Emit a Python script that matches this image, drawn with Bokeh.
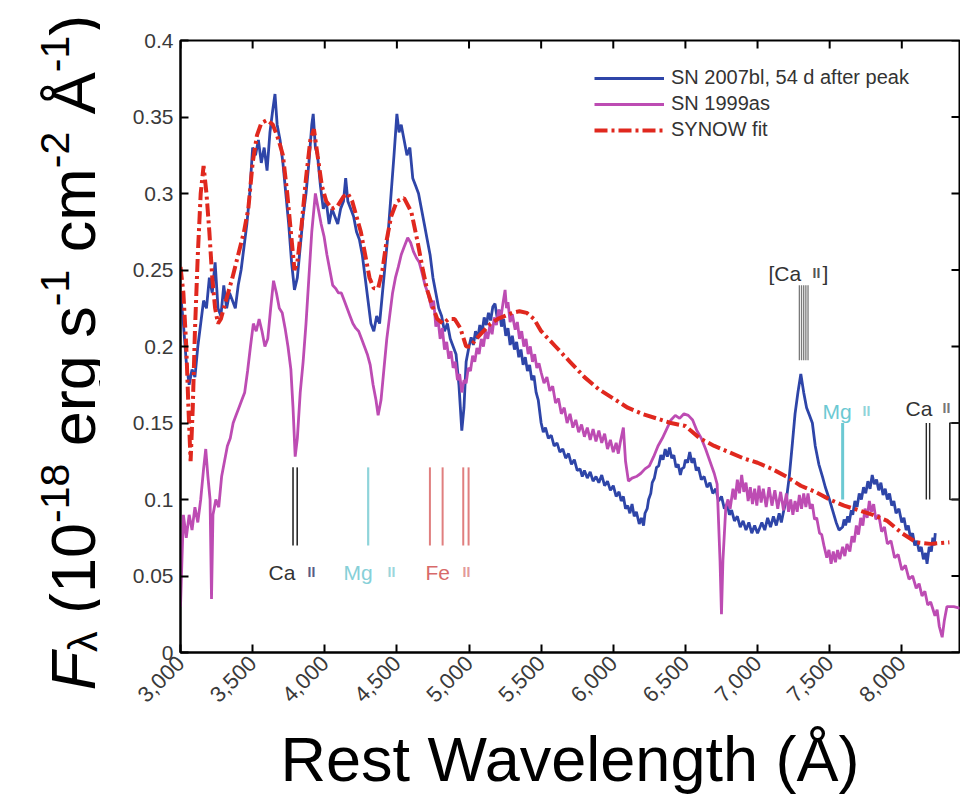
import math
from bokeh.plotting import figure
from bokeh.layouts import row
from bokeh.models import Range1d, FixedTicker, Label, Legend, LegendItem
from bokeh.core.properties import value
from bokeh.embed import file_html
from bokeh.resources import INLINE

# ---------------- data: (rest wavelength Å, flux) ----------------
spec_07bl = [
    (3000, .235), (3020, .215), (3040, .19), (3060, .175), (3080, .185), (3100, .18), (3120, .2), (3140, .215),
    (3160, .23), (3180, .225), (3200, .245), (3220, .235), (3240, .255), (3260, .225), (3280, .22), (3300, .24),
    (3320, .225), (3340, .235), (3360, .23), (3380, .225), (3400, .24), (3420, .25), (3440, .265), (3460, .28),
    (3480, .3), (3500, .33), (3520, .325), (3540, .335), (3560, .32), (3580, .33), (3600, .315), (3620, .34),
    (3640, .355), (3655, .365), (3670, .345), (3690, .335), (3710, .32), (3730, .3), (3750, .28), (3770, .255),
    (3790, .237), (3810, .245), (3830, .265), (3850, .285), (3870, .3), (3890, .32), (3910, .345), (3920, .352),
    (3935, .33), (3950, .325), (3970, .305), (3990, .29), (4010, .295), (4030, .28), (4050, .29), (4070, .285),
    (4090, .28), (4110, .29), (4130, .295), (4145, .31), (4160, .295), (4180, .29), (4200, .285), (4220, .275),
    (4240, .27), (4260, .26), (4280, .245), (4300, .23), (4320, .215), (4340, .21), (4360, .22), (4380, .215),
    (4400, .235), (4420, .255), (4440, .275), (4460, .3), (4480, .325), (4500, .352), (4515, .34), (4530, .345),
    (4550, .335), (4570, .325), (4590, .33), (4610, .31), (4630, .305), (4650, .3), (4670, .29), (4690, .28),
    (4710, .27), (4730, .26), (4750, .245), (4770, .235), (4790, .225), (4810, .22), (4830, .21), (4850, .215),
    (4870, .205), (4890, .2), (4910, .195), (4930, .175), (4950, .145), (4965, .16), (4980, .19),
    (5000, .2), (5015, .206), (5030, .201), (5045, .21), (5060, .205), (5075, .214), (5090, .209), (5105, .219),
    (5120, .214), (5135, .222), (5150, .217), (5165, .226), (5180, .228), (5195, .219), (5210, .224), (5225, .213),
    (5240, .218), (5255, .207), (5270, .212), (5285, .201), (5300, .207), (5315, .198), (5330, .203), (5345, .193),
    (5360, .198), (5375, .188), (5390, .193), (5405, .184), (5420, .188), (5435, .178), (5450, .181), (5465, .17),
    (5480, .165),
    (5500, .150), (5515, .144), (5530, .147), (5550, .140), (5570, .142), (5590, .135), (5610, .137), (5630, .131),
    (5650, .133), (5670, .127), (5690, .13), (5710, .123), (5730, .126), (5750, .119), (5770, .12), (5785, .115),
    (5800, .119), (5820, .114), (5840, .118), (5860, .112), (5880, .115), (5900, .111), (5920, .116), (5940, .109),
    (5960, .112), (5980, .106), (6000, .109), (6020, .102), (6040, .105), (6055, .099), (6070, .102), (6085, .094),
    (6100, .096), (6115, .091), (6130, .097), (6145, .089), (6160, .092), (6180, .084), (6195, .088), (6210, .083),
    (6220, .091), (6235, .094), (6245, .1), (6260, .104), (6270, .111), (6285, .114), (6300, .121), (6315, .122),
    (6330, .129), (6345, .126), (6360, .133), (6375, .128), (6390, .134), (6405, .127), (6420, .129), (6435, .121),
    (6450, .123), (6465, .116), (6475, .12), (6490, .121), (6500, .126), (6515, .124), (6530, .131), (6545, .124),
    (6560, .127), (6575, .119), (6590, .121), (6610, .113), (6630, .115), (6650, .108), (6670, .111), (6690, .104),
    (6710, .107), (6730, .099), (6750, .102), (6770, .094), (6790, .097), (6805, .09), (6820, .093), (6840, .086),
    (6860, .089), (6880, .082), (6900, .086), (6920, .08), (6940, .085), (6960, .078), (6980, .083), (7000, .078),
    (7030, .085), (7050, .08), (7070, .088), (7090, .082), (7110, .089), (7130, .083), (7150, .091), (7165, .085),
    (7180, .092),
    (7200, .1), (7220, .115), (7240, .135), (7260, .156), (7280, .17), (7300, .182), (7320, .17), (7340, .16),
    (7360, .155), (7380, .15), (7400, .135), (7425, .123), (7450, .115), (7470, .108), (7495, .101), (7520, .093),
    (7545, .085), (7565, .08),
    (7590, .082), (7600, .087), (7610, .083), (7625, .089), (7635, .085), (7650, .093), (7660, .09), (7675, .099),
    (7690, .095), (7705, .104), (7720, .1), (7735, .108), (7750, .104), (7765, .112), (7780, .107), (7795, .116),
    (7810, .11), (7825, .113), (7840, .106), (7855, .111), (7870, .103), (7885, .107), (7900, .1), (7915, .104),
    (7930, .096), (7945, .099), (7960, .091), (7980, .094), (8000, .085), (8015, .088), (8030, .08), (8045, .083),
    (8060, .075), (8075, .078), (8090, .07), (8105, .073), (8120, .066), (8135, .069), (8150, .061), (8165, .065),
    (8175, .058), (8190, .069), (8205, .066), (8215, .075), (8225, .07), (8232, .078),
]

spec_99as = [
    (3000, .03), (3010, .06), (3020, .09), (3040, .075), (3060, .09), (3080, .08), (3100, .095), (3120, .085),
    (3140, .1), (3160, .12), (3175, .133), (3190, .115), (3205, .1), (3215, .035), (3225, .09), (3245, .1),
    (3265, .095), (3285, .115), (3305, .125), (3325, .135), (3345, .14), (3365, .15), (3385, .155), (3405, .16),
    (3425, .165), (3445, .17), (3465, .184), (3485, .2), (3505, .215), (3525, .21), (3545, .218), (3565, .21),
    (3585, .2), (3605, .205), (3625, .225), (3645, .243), (3665, .235), (3685, .225), (3705, .222), (3725, .212),
    (3745, .2), (3765, .185), (3780, .16), (3795, .128), (3810, .14), (3830, .17), (3850, .19), (3870, .215),
    (3890, .245), (3910, .275), (3935, .3), (3955, .29), (3975, .28), (3995, .272), (4015, .26), (4035, .25),
    (4055, .24), (4075, .238), (4095, .235), (4115, .235), (4135, .23), (4155, .225), (4175, .22), (4195, .215),
    (4215, .212), (4235, .21), (4255, .205), (4275, .2), (4295, .195), (4315, .188), (4335, .175), (4355, .165),
    (4370, .155), (4390, .165), (4410, .185), (4430, .205), (4450, .22), (4470, .235), (4490, .245), (4510, .252),
    (4530, .26), (4550, .265), (4575, .271), (4595, .268), (4615, .262), (4635, .258), (4655, .255), (4675, .248),
    (4695, .24), (4715, .235),
    (4740, .225), (4755, .23), (4770, .213), (4785, .218), (4800, .205), (4815, .212), (4830, .198), (4845, .203),
    (4860, .192), (4875, .197), (4890, .186), (4905, .19), (4920, .178), (4935, .182), (4950, .17), (4965, .178),
    (4980, .176), (4995, .186), (5010, .184), (5025, .194), (5040, .19), (5055, .199), (5070, .195), (5085, .205),
    (5100, .2), (5115, .21), (5130, .205), (5145, .214), (5160, .208), (5175, .219), (5190, .214), (5205, .224),
    (5220, .218), (5235, .228), (5250, .237), (5260, .225), (5270, .229), (5285, .216), (5300, .221), (5320, .211),
    (5335, .216), (5350, .205), (5365, .21), (5380, .2), (5395, .205), (5410, .195), (5425, .2), (5440, .19),
    (5455, .195), (5470, .186), (5485, .189),
    (5500, .183), (5520, .176), (5540, .18), (5560, .171), (5580, .174), (5600, .163), (5620, .166), (5640, .156),
    (5660, .16), (5680, .15), (5700, .156), (5720, .147), (5740, .152), (5760, .144), (5780, .149), (5800, .141),
    (5820, .147), (5840, .139), (5860, .146), (5880, .138), (5900, .145), (5920, .137), (5940, .143), (5960, .133),
    (5980, .139), (6000, .131), (6020, .137), (6035, .13), (6050, .138),
    (6070, .147), (6085, .125), (6105, .112), (6130, .114), (6160, .115), (6190, .117), (6220, .12), (6250, .122),
    (6280, .128), (6310, .135), (6340, .14), (6370, .146), (6400, .152), (6430, .155), (6460, .153), (6490, .156),
    (6520, .155), (6550, .152), (6580, .145), (6610, .14), (6640, .133), (6670, .125), (6700, .117), (6720, .11),
    (6740, .06), (6750, .025), (6760, .06),
    (6780, .095), (6795, .1), (6810, .094), (6830, .107), (6845, .1), (6860, .113), (6875, .104), (6890, .116),
    (6905, .105), (6920, .111), (6935, .099), (6950, .108), (6965, .097), (6980, .107), (6995, .096), (7010, .109),
    (7025, .098), (7040, .107), (7060, .095), (7080, .108), (7100, .096), (7120, .106), (7140, .094), (7160, .105),
    (7180, .093), (7200, .104), (7215, .092), (7230, .1), (7245, .09), (7260, .099), (7275, .092), (7290, .103),
    (7305, .094), (7320, .104), (7335, .095), (7350, .104), (7365, .094), (7380, .097), (7395, .087), (7410, .088),
    (7430, .078), (7445, .077),
    (7460, .07), (7480, .062), (7495, .067), (7510, .058), (7525, .066), (7540, .059), (7555, .067), (7570, .061),
    (7590, .069), (7605, .063), (7620, .071), (7640, .066), (7655, .076), (7670, .072), (7685, .083), (7700, .077),
    (7715, .088), (7730, .083), (7745, .094), (7760, .088), (7775, .099), (7790, .092), (7805, .097), (7820, .087),
    (7840, .09), (7860, .079), (7880, .082), (7900, .071), (7925, .073), (7950, .062), (7975, .064), (8000, .054),
    (8025, .057), (8050, .048), (8075, .05), (8100, .042), (8120, .045), (8140, .037), (8160, .04), (8180, .031),
    (8200, .033), (8230, .024), (8245, .028), (8260, .017), (8280, .01), (8295, .021), (8313, .03),
    (8330, .03), (8360, .03), (8400, .029), (8420, .029),
]

spec_synow = [
    (3000, .252), (3020, .235), (3040, .2), (3055, .16), (3070, .125), (3085, .16), (3100, .21), (3120, .26),
    (3140, .3), (3160, .318), (3180, .3), (3200, .275), (3220, .245), (3240, .225), (3260, .215), (3280, .218),
    (3300, .225), (3330, .235), (3360, .245), (3400, .26), (3440, .275), (3470, .29), (3500, .32), (3530, .338),
    (3560, .346), (3600, .348), (3640, .345), (3680, .335), (3710, .325), (3740, .3), (3770, .27), (3790, .25),
    (3810, .255), (3840, .28), (3870, .31), (3900, .335), (3925, .342), (3950, .325), (3980, .305), (4010, .295),
    (4050, .29), (4090, .292), (4130, .298), (4160, .3), (4190, .295), (4220, .285), (4250, .275), (4280, .26),
    (4310, .245), (4340, .238), (4370, .238), (4400, .25), (4430, .27), (4460, .285), (4500, .295), (4550, .297),
    (4600, .288), (4640, .27), (4680, .25), (4710, .237), (4740, .228), (4780, .218), (4820, .215), (4860, .218),
    (4900, .218), (4940, .212), (4980, .2), (5010, .2), (5050, .205), (5100, .21), (5150, .215), (5200, .218),
    (5250, .22), (5300, .222), (5350, .223), (5400, .222), (5450, .218), (5500, .21), (5600, .2), (5700, .19),
    (5800, .18), (5900, .172), (6000, .166), (6100, .16), (6200, .156), (6300, .153), (6400, .15), (6500, .148),
    (6600, .14), (6700, .135), (6800, .131), (6900, .127), (7000, .124), (7100, .12), (7200, .115), (7300, .109),
    (7400, .105), (7500, .1), (7600, .096), (7700, .093), (7800, .09), (7900, .086), (8000, .078), (8100, .072),
    (8200, .071), (8330, .072),
]

series_labels = ["SN 2007bl, 54 d after peak", "SN 1999as", "SYNOW fit"]

x_ticks = [3000, 3500, 4000, 4500, 5000, 5500, 6000, 6500, 7000, 7500, 8000]
x_tick_labels = ["3,000", "3,500", "4,000", "4,500", "5,000", "5,500", "6,000", "6,500", "7,000", "7,500", "8,000"]
y_ticks = [0, 0.05, 0.1, 0.15, 0.2, 0.25, 0.3, 0.35, 0.4]
y_tick_labels = ["0", "0.05", "0.1", "0.15", "0.2", "0.25", "0.3", "0.35", "0.4"]

# line identifications (wavelengths in Angstrom, flux extents)
caii_hk = [3780, 3809]
mgii_blue = [4301]
feii_lines = [4729, 4817, 4960, 4997]
caii_forbidden = [7290, 7305, 7320, 7335, 7350]
mgii_red = [7590]
caii_ir = [8170, 8193]
caii_ir_box = 8333
blue_ids_span = [0.070, 0.121]
forbidden_span = [0.191, 0.240]
red_ids_span = [0.100, 0.150]

wl_07bl, fx_07bl = [list(v) for v in zip(*spec_07bl)]
wl_99as, fx_99as = [list(v) for v in zip(*spec_99as)]
wl_synow, fx_synow = [list(v) for v in zip(*spec_synow)]

# ---------------- layout constants ----------------
X0, X1 = 3000, 8400
Y0, Y1 = 0, 0.4
FONT = "Liberation Sans"
W, H = 960, 801
LAB_W = 100                     # width of the strip holding the y-axis title
FRAME_L, FRAME_R, FRAME_T, FRAME_B = 180, 959, 40, 652


def px_x(px):
    return X0 + (px - FRAME_L) * (X1 - X0) / (FRAME_R - FRAME_L)


def px_y(py):
    return Y0 + (FRAME_B - py) * (Y1 - Y0) / (FRAME_B - FRAME_T)


p = figure(width=W - LAB_W, height=H, x_range=Range1d(X0, X1), y_range=Range1d(Y0, Y1),
           output_backend="svg", toolbar_location=None,
           min_border_left=FRAME_L - LAB_W, min_border_right=W - FRAME_R,
           min_border_top=FRAME_T, min_border_bottom=H - FRAME_B)
p.grid.visible = False
p.outline_line_color = "black"
p.outline_line_width = 2
p.background_fill_color = "white"
p.border_fill_color = "white"

# axes
xa = p.xaxis[0]
xa.ticker = FixedTicker(ticks=x_ticks)
xa.major_label_overrides = dict(zip(x_ticks, x_tick_labels))
xa.major_label_orientation = math.pi / 4
xa.axis_label = "Rest Wavelength (Å)"
xa.axis_label_text_font = FONT
xa.axis_label_text_font_size = "63px"
xa.axis_label_text_font_style = "normal"
xa.axis_label_text_color = "black"
xa.axis_label_standoff = 12

ya = p.yaxis[0]
ya.ticker = FixedTicker(ticks=y_ticks)
ya.major_label_overrides = dict(zip(y_ticks, y_tick_labels))

for ax, fs in ((xa, "22px"), (ya, "21px")):
    ax.major_tick_in = 8
    ax.major_tick_out = 0
    ax.minor_tick_line_color = None
    ax.axis_line_width = 2
    ax.major_tick_line_width = 2
    ax.major_label_text_font = FONT
    ax.major_label_text_font_size = fs
    ax.major_label_text_color = "#3a3a3a"
    ax.major_label_standoff = 7

# mirrored inward ticks on the top and right edges (same tick values)
tick_dy = 8 * (Y1 - Y0) / (FRAME_B - FRAME_T)
tick_dx = 8 * (X1 - X0) / (FRAME_R - FRAME_L)
p.segment(x0=x_ticks, x1=x_ticks, y0=[Y1] * len(x_ticks), y1=[Y1 - tick_dy] * len(x_ticks),
          line_color="black", line_width=2)
p.segment(x0=[X1] * len(y_ticks), x1=[X1 - tick_dx] * len(y_ticks), y0=y_ticks, y1=y_ticks,
          line_color="black", line_width=2)

# spectra
r_bl = p.line(wl_07bl, fx_07bl, line_color="#2e45a8", line_width=2.8)
r_as = p.line(wl_99as, fx_99as, line_color="#bd4cb3", line_width=2.8)
r_sy = p.line(wl_synow, fx_synow, line_color="#e0281e", line_width=4, line_dash="13 4 3 4")


def vlines(wls, span, color, width):
    p.multi_line(xs=[[w, w] for w in wls], ys=[list(span) for _ in wls],
                 line_color=color, line_width=width)


vlines(caii_hk, blue_ids_span, "#2a2a2a", 1.6)
vlines(mgii_blue, blue_ids_span, "#8fd4da", 2.2)
vlines(feii_lines, blue_ids_span, "#e07f7f", 2.0)
vlines(caii_forbidden, forbidden_span, "#7a7a7a", 1.3)
vlines(mgii_red, red_ids_span, "#6cc9d3", 3.0)
vlines(caii_ir, red_ids_span, "#2a2a2a", 1.4)
p.line([X1 + 100, caii_ir_box, caii_ir_box, X1 + 100],
       [red_ids_span[1], red_ids_span[1], red_ids_span[0], red_ids_span[0]],
       line_color="#222222", line_width=1.6)

# identification labels: (text, colour, size, style, left px, baseline px)
id_labels = [
    ("Ca", "#333333", 21, "normal", 268, 572), ("II", "#5b5b85", 14, "bold", 307, 571),
    ("Mg", "#86d0d8", 21, "normal", 343, 572), ("II", "#9bd6dc", 14, "bold", 387, 571),
    ("Fe", "#d86a6a", 21, "normal", 425, 572), ("II", "#e39a9a", 14, "bold", 462, 571),
    ("[Ca", "#333333", 21, "normal", 768, 273), ("II", "#555555", 14, "bold", 812, 272),
    ("]", "#333333", 21, "normal", 822, 273),
    ("Mg", "#6cc9d3", 21, "normal", 822, 411), ("II", "#8fd4da", 14, "bold", 862, 410),
    ("Ca", "#333333", 21, "normal", 905, 408), ("II", "#777777", 14, "bold", 942, 407),
]
for text, color, size, style, lx, by in id_labels:
    p.add_layout(Label(x=px_x(lx), y=px_y(by), text=text, text_color=color,
                       text_font=FONT, text_font_size=f"{size}px", text_font_style=style,
                       text_align="left", text_baseline="alphabetic"))

# legend
legend = Legend(items=[LegendItem(label=series_labels[0], renderers=[r_bl]),
                       LegendItem(label=series_labels[1], renderers=[r_as]),
                       LegendItem(label=series_labels[2], renderers=[r_sy])],
                location=(414, 511), border_line_color=None, background_fill_alpha=0,
                glyph_width=70, glyph_height=22, label_height=22, spacing=3, padding=3, margin=0,
                label_text_font=FONT, label_text_font_size="20px", label_text_color="#333333",
                label_standoff=7)
p.add_layout(legend)

# ---------------- y-axis title strip (rotated, reading upward) ----------------
lab = figure(width=LAB_W, height=H, x_range=Range1d(0, LAB_W), y_range=Range1d(0, H),
             output_backend="svg", toolbar_location=None, min_border=0,
             x_axis_location=None, y_axis_location=None)
if "frame_align" in lab.properties():
    lab.frame_align = False          # keep this strip's frame covering its whole canvas
lab.grid.visible = False
lab.outline_line_color = None
lab.border_fill_color = "white"
lab.background_fill_color = "white"

# pieces: (text, size px, style, baseline shift px, advance in em)
ylab = [("F", 63, "italic", 0, 0.611), ("λ", 41, "normal", 10, 0.5), ("", 63, "normal", 0, 0.278),
        ("(10", 63, "normal", 0, 1.445), ("-18", 41, "normal", -18, 1.445), ("", 63, "normal", 0, 0.278),
        ("erg s", 63, "normal", 0, 2.223), ("-1", 41, "normal", -18, 0.889), ("", 63, "normal", 0, 0.278),
        ("cm", 63, "normal", 0, 1.333), ("-2", 41, "normal", -18, 0.889), ("", 63, "normal", 0, 0.278),
        ("Å", 63, "normal", 0, 0.667), ("-1", 41, "normal", -18, 0.889), (")", 63, "normal", 0, 0.333)]
pos = 690.0
for text, size, style, off, adv in ylab:
    if text:
        lab.text(x=[72 + off], y=[H - pos], text=[text], angle=math.pi / 2,
                 text_font=value(FONT), text_font_size=f"{size}px", text_font_style=style,
                 text_color="black", text_align="left", text_baseline="alphabetic")
    pos -= adv * size

layout = row(lab, p, spacing=0)
open("out.html", "w").write(file_html(layout, INLINE))
